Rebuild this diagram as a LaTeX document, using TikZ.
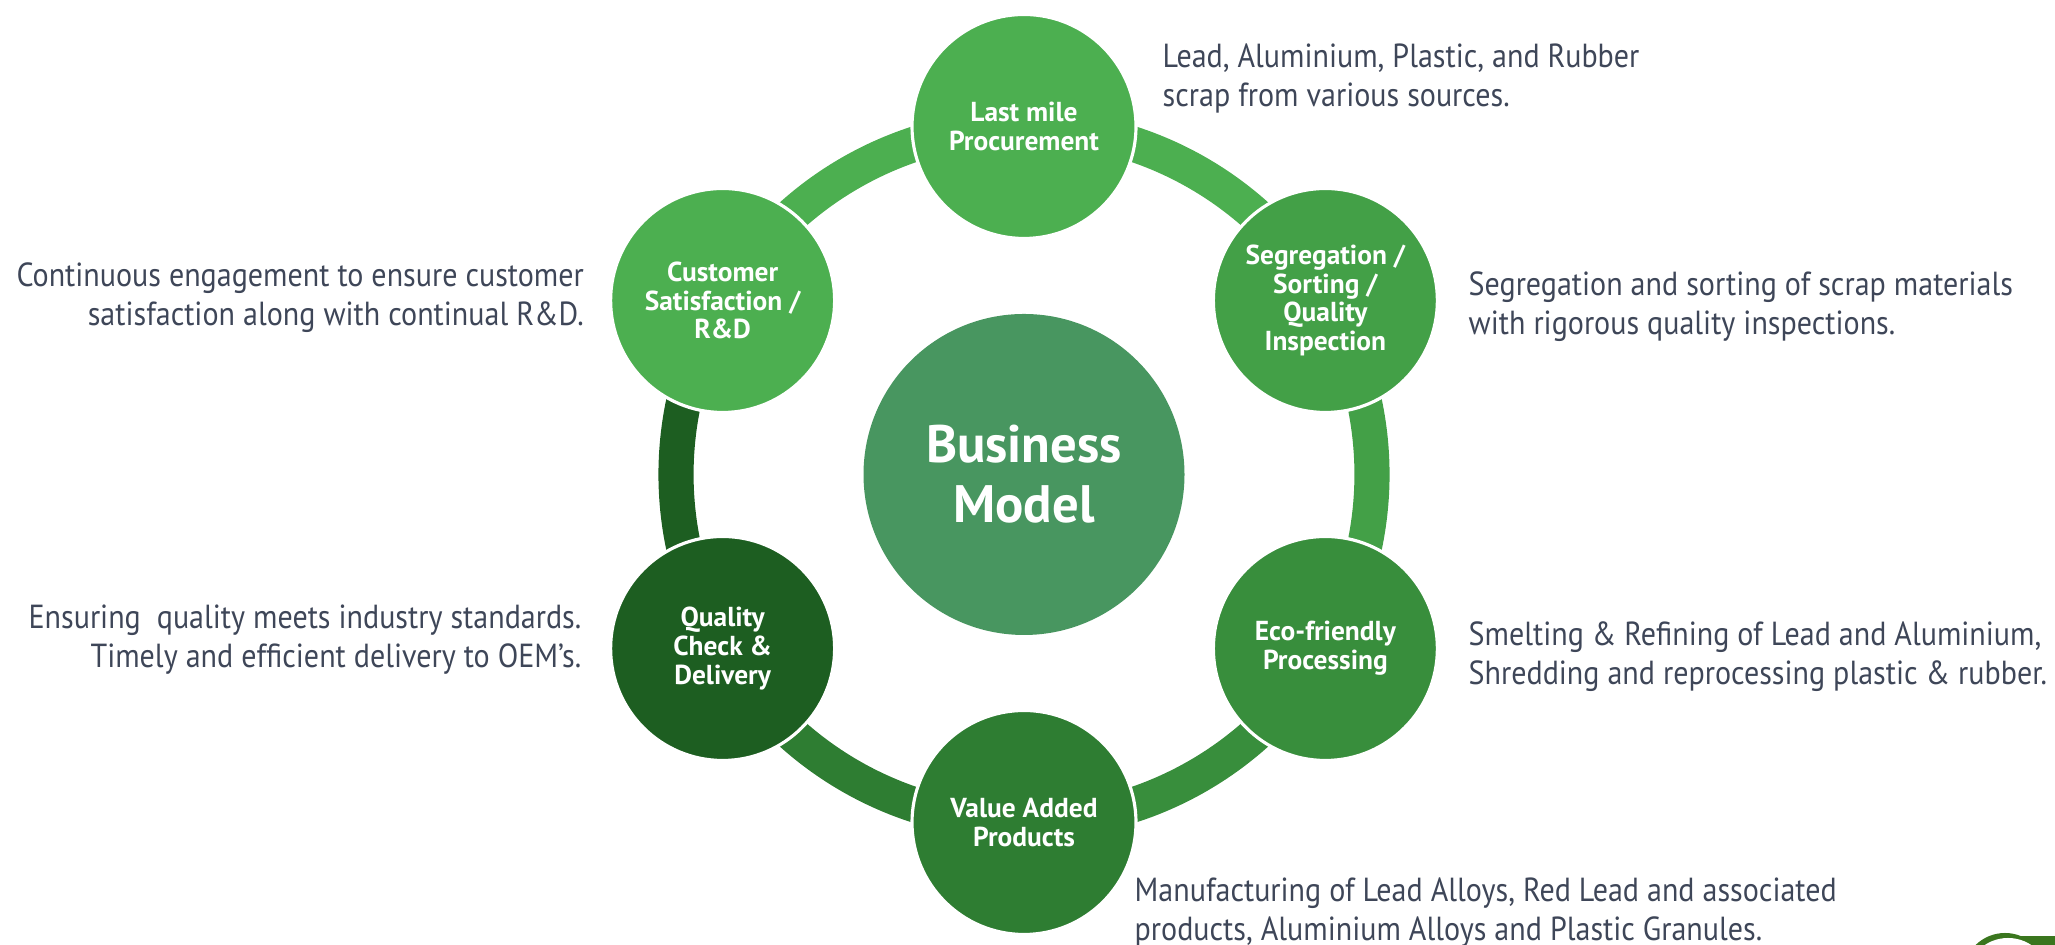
\documentclass[tikz,border=0pt]{standalone}
\usepackage{fontspec}
\setmainfont{PT Sans}
\setsansfont{PT Sans}
\newfontfamily\notefont[FakeStretch=0.9]{PT Sans}
\usetikzlibrary{backgrounds}

\definecolor{leafA}{RGB}{76,175,80}
\definecolor{leafB}{RGB}{67,160,71}
\definecolor{leafC}{RGB}{56,142,60}
\definecolor{leafD}{RGB}{46,125,50}
\definecolor{leafE}{RGB}{29,94,33}
\definecolor{hubgreen}{RGB}{72,150,96}
\definecolor{notegray}{RGB}{62,70,88}
\definecolor{logogreen}{RGB}{58,118,30}

\begin{document}
\begin{tikzpicture}[
    every node/.style={font=\sffamily},
    stage/.style={circle, fill=#1, draw=white, line width=0.9pt,
        minimum size=2.24cm, inner sep=0pt, align=center, text=white,
        font=\sffamily\bfseries\fontsize{7.8}{8.2}\selectfont},
    link/.style={draw=#1, line width=10pt},
    note/.style={inner sep=0pt, text=notegray,
        font=\notefont\fontsize{9.5}{11.1}\selectfont},
]

% === Canvas ===
\useasboundingbox (0,0) rectangle (20.55,9.45);

\def\hubX{10.24}    % centre of the cycle
\def\hubY{4.705}
\def\ringR{3.48}    % radius of the ring

% === Hub ===
\node[circle, fill=hubgreen, minimum size=3.21cm, inner sep=0pt,
    align=center, text=white,
    font=\sffamily\bfseries\fontsize{15}{17}\selectfont]
    (hub) at (\hubX,\hubY) {Business\\Model};

% === Stages around the ring ===
\begin{scope}[shift={(\hubX,\hubY)}]
\node[stage=leafA] (procure)  at (90:\ringR)   {Last mile\\Procurement};
\node[stage=leafB] (sorting)  at (30:\ringR)   {Segregation /\\Sorting /\\Quality\\Inspection};
\node[stage=leafC] (process)  at (-30:\ringR)  {Eco-friendly\\Processing};
\node[stage=leafD] (products) at (-90:\ringR)  {Value Added\\Products};
\node[stage=leafE] (delivery) at (-150:\ringR) {Quality\\Check \&\\Delivery};
\node[stage=leafA] (custsat)  at (150:\ringR)  {Customer\\Satisfaction /\\R\&D};
\end{scope}

% Ring segments, each in the colour of the stage it leaves
\begin{scope}[on background layer]
\foreach \from/\ang/\col in {procure/90/leafA, sorting/30/leafB,
        process/-30/leafC, products/-90/leafD,
        delivery/-150/leafE, custsat/150/leafA} {
    \draw[link=\col] (\from.center)
        arc[start angle=\ang, end angle=\ang-60, radius=\ringR];
}
\end{scope}

% === Descriptions ===
\node[note, anchor=west, align=left] (procurenote) at (11.62,8.665)
    {Lead, Aluminium, Plastic, and Rubber\\scrap from various sources.};
\node[note, anchor=west, align=left] (sortingnote) at (14.68,6.385)
    {Segregation and sorting of scrap materials\\with rigorous quality inspections.};
\node[note, anchor=west, align=left] (processnote) at (14.68,2.885)
    {Smelting \& Refining of Lead and Aluminium,\\Shredding and reprocessing plastic \& rubber.};
\node[note, anchor=west, align=left] (productsnote) at (11.34,0.325)
    {Manufacturing of Lead Alloys, Red Lead and associated\\products, Aluminium Alloys and Plastic Granules.};
\node[note, anchor=east, align=right] (deliverynote) at (5.82,3.055)
    {Ensuring\ \ quality meets industry standards.\\Timely and efficient delivery to OEM’s.};
\node[note, anchor=east, align=right] (custsatnote) at (5.845,6.475)
    {Continuous engagement to ensure customer\\satisfaction along with continual R\&D.};

% === Corner mark ===
\fill[logogreen] (20.05,-0.30) circle (0.42);
\fill[logogreen] (20.17,0) rectangle (20.55,0.09);
\fill[white] (20.08,-0.35) circle (0.42);

\end{tikzpicture}
\end{document}
